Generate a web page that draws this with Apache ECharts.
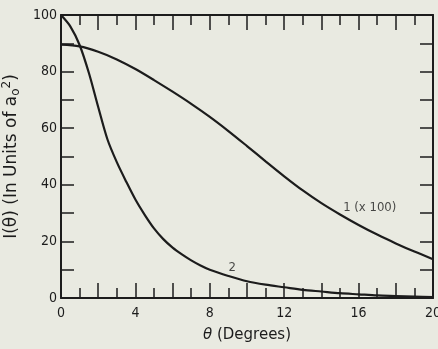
<!DOCTYPE html>
<html>
<head>
<meta charset="utf-8">
<script src="https://cdn.jsdelivr.net/npm/echarts@6/dist/echarts.min.js"></script>
<style>
html,body{margin:0;padding:0;background:#e9eae1;}
#c{width:438px;height:349px;}
</style>
</head>
<body>
<div id="c"></div>
<script>
// Curve 1 (x 100): angle in degrees, intensity
const curve1X = [0,1,2,3,4,5,6,7,8,9,10,11,12,13,14,15,16,17,18,19,20];
const curve1Y = [89.5,88.9,87.0,84.3,80.9,77.0,72.9,68.6,64.0,59.0,53.7,48.3,43.0,38.0,33.5,29.5,25.8,22.4,19.3,16.4,13.7];
// Curve 2
const curve2X = [0,0.5,1.0,1.5,2.0,2.5,3.0,3.5,4.0,4.5,5.0,5.5,6.0,6.5,7.0,7.5,8.0,9,10,11,12,13,14,15,16,17,18,19,20];
const curve2Y = [100,96,89.4,79.5,67.5,56.0,48.0,41.2,34.8,29.4,24.6,20.8,17.8,15.4,13.3,11.5,10.0,7.8,5.9,4.7,3.8,2.9,2.3,1.7,1.3,0.9,0.7,0.5,0.3];
// Tick labels
const xTickLabels = [0,4,8,12,16,20];
const yTickLabels = [0,20,40,60,80,100];
// Curve labels
const curveLabels = [
  {text:'2', x:9.2, y:10.6},
  {text:'1 (x 100)', x:16.6, y:31.8}
];

const ink = '#1c1c1c';
const fontFam = '"DejaVu Sans Condensed","DejaVu Sans",sans-serif';

const chart = echarts.init(document.getElementById('c'));
function xAxisCfg(pos, showLabels){
  return {
    type:'value', position:pos, min:0, max:20, interval:2,
    axisLine:{show:true, onZero:false, lineStyle:{color:ink, width:2}},
    axisTick:{show:true, inside:true, length:15, lineStyle:{color:ink, width:1.5}},
    minorTick:{show:true, splitNumber:2, length:10, lineStyle:{color:ink, width:1.5}},
    splitLine:{show:false},
    axisLabel:{show:showLabels, margin:8, color:ink, fontSize:14, fontFamily:fontFam,
      formatter:v=> xTickLabels.indexOf(v)>=0 ? String(v) : ''},
    name: showLabels ? '{t|θ} (Degrees)' : '',
    nameLocation:'middle', nameGap:30,
    nameTextStyle:{color:ink, fontSize:15, fontFamily:'"DejaVu Sans",sans-serif',
      rich:{t:{fontStyle:'italic', fontSize:15, color:ink, fontFamily:'"DejaVu Sans",sans-serif'}}}
  };
}
function yAxisCfg(pos, showLabels){
  return {
    type:'value', position:pos, min:0, max:100, interval:10,
    axisLine:{show:true, onZero:false, lineStyle:{color:ink, width:2}},
    axisTick:{show:true, inside:true, length:13, lineStyle:{color:ink, width:1.5}},
    splitLine:{show:false},
    axisLabel:{show:showLabels, margin:4, color:ink, fontSize:14, fontFamily:fontFam,
      formatter:v=> yTickLabels.indexOf(v)>=0 ? String(v) : ''},
    name: showLabels ? 'I(θ) (In Units of a{sub|o}{sup|2})' : '',
    nameLocation:'middle', nameGap:36, nameRotate:90,
    nameTextStyle:{color:ink, fontSize:17, fontFamily:'"DejaVu Sans",sans-serif',
      rich:{
        sub:{fontSize:12, verticalAlign:'bottom', padding:[7,0,0,0], color:ink},
        sup:{fontSize:12, verticalAlign:'top', padding:[0,0,9,0], color:ink}
      }}
  };
}

chart.setOption({
  backgroundColor:'#e9eae1',
  animation:false,
  grid:{left:61, right:5, top:15, bottom:51, containLabel:false, outerBoundsMode:'none'},
  xAxis:[xAxisCfg('bottom', true), xAxisCfg('top', false)],
  yAxis:[yAxisCfg('left', true), yAxisCfg('right', false)],
  series:[
    {type:'line', xAxisIndex:0, yAxisIndex:0, smooth:0.3, symbol:'none',
     lineStyle:{color:ink, width:2.2},
     data: curve1X.map((x,i)=>[x, curve1Y[i]])},
    {type:'line', xAxisIndex:0, yAxisIndex:0, smooth:0.3, symbol:'none',
     lineStyle:{color:ink, width:2.2},
     data: curve2X.map((x,i)=>[x, curve2Y[i]])},
    {type:'scatter', xAxisIndex:0, yAxisIndex:0, symbolSize:0, silent:true,
     label:{show:true, position:'inside', color:ink, fontSize:13, fontFamily:fontFam,
       formatter:p=>p.data[2]},
     data: curveLabels.map(l=>[l.x, l.y, l.text])}
  ]
});
</script>
</body>
</html>
